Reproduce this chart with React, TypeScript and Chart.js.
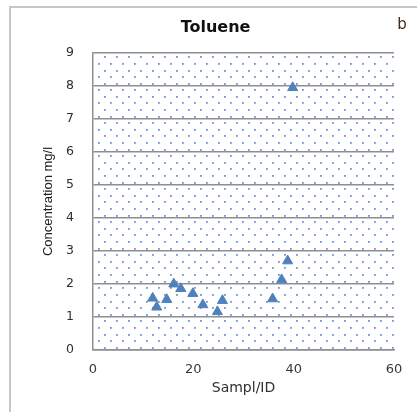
import React, { useEffect, useRef } from "react";
import { Chart, registerables } from "chart.js";

Chart.register(...registerables);

// Toluene concentration per sample
const sampleIds = [11.9, 12.7, 14.7, 16.1, 17.5, 19.9, 21.9, 24.8, 25.8, 35.8, 37.6, 38.8, 39.8];
const concentrations = [1.57, 1.3, 1.53, 2.0, 1.86, 1.71, 1.37, 1.16, 1.5, 1.55, 2.13, 2.7, 7.95];

const chartTitle = "Toluene";
const panelLabel = "b";
const xTitle = "Sampl/ID";
const yTitle = "Concentration mg/l";
const xMin = 0;
const xMax = 60;
const xStep = 20;
const yMin = 0;
const yMax = 9;
const yStep = 1;

const GRID = "#8e8e8e";
const MARKER = "#4f81bd";

// Dotted fill of the plot area plus the outer panel frame and corner label
const decorPlugin = {
  id: "decor",
  beforeDraw(chart: any) {
    const { ctx, chartArea, width, height } = chart;
    ctx.save();
    ctx.fillStyle = "#ffffff";
    ctx.fillRect(0, 0, width, height);

    // panel frame (top and left edges)
    ctx.strokeStyle = "#c6c6c6";
    ctx.lineWidth = 2;
    ctx.beginPath();
    ctx.moveTo(10, 412);
    ctx.lineTo(10, 7);
    ctx.lineTo(417, 7);
    ctx.stroke();

    // staggered dot pattern
    const { left, right, top, bottom } = chartArea;
    const dy = (bottom - top) / 45;
    ctx.fillStyle = "rgba(74,124,204,0.8)";
    let row = 0;
    for (let y = top + dy / 2; y < bottom; y += dy, row++) {
      const off = row % 2 === 0 ? 6 : 0;
      for (let x = left + 5 + off; x < right; x += 12) {
        ctx.fillRect(Math.round(x), Math.round(y), 1.8, 1.8);
      }
    }

    // panel letter
    ctx.fillStyle = "#3e2c1c";
    ctx.font = "15px 'DejaVu Sans'";
    ctx.textAlign = "center";
    ctx.textBaseline = "middle";
    ctx.fillText(panelLabel, 402, 25);
    ctx.restore();
  },
};

export default function App() {
  const canvasRef = useRef<HTMLCanvasElement | null>(null);

  useEffect(() => {
    if (!canvasRef.current) return;
    const points = sampleIds.map((x, i) => ({ x, y: concentrations[i] }));
    const chart = new Chart(canvasRef.current, {
      type: "scatter",
      data: {
        datasets: [
          {
            label: chartTitle,
            data: points,
            pointStyle: "triangle",
            pointRadius: 5.8,
            pointHoverRadius: 5.8,
            backgroundColor: MARKER,
            borderColor: MARKER,
            borderWidth: 1,
          },
        ],
      },
      options: {
        responsive: false,
        animation: false,
        layout: { padding: { left: 37, right: 23, top: 7, bottom: 0 } },
        plugins: {
          legend: { display: false },
          tooltip: { enabled: false },
          title: {
            display: true,
            text: chartTitle,
            color: "#111",
            font: { family: "'DejaVu Sans'", size: 16, weight: "bold" },
            padding: { top: 11.5, bottom: 15.3 },
          },
        },
        scales: {
          x: {
            type: "linear",
            min: xMin,
            max: xMax,
            afterFit(scale: any) {
              scale.height = 62;
            },
            ticks: {
              stepSize: xStep,
              padding: 12,
              color: "#383838",
              font: { family: "'DejaVu Sans'", size: 13 },
            },
            grid: { display: false, drawTicks: false },
            border: { display: true, color: GRID, width: 1.5 },
            title: {
              display: true,
              text: xTitle,
              color: "#303030",
              font: { family: "'DejaVu Sans'", size: 14 },
              padding: { top: 0, bottom: 15.6 },
            },
          },
          y: {
            type: "linear",
            min: yMin,
            max: yMax,
            afterFit(scale: any) {
              scale.width = 56;
            },
            ticks: {
              stepSize: yStep,
              padding: 19,
              color: "#2e2e2e",
              font: { family: "'DejaVu Sans'", size: 12.5 },
            },
            grid: { color: GRID, lineWidth: 1.5, drawTicks: false },
            border: { display: true, color: GRID, width: 1.5 },
            title: {
              display: true,
              text: yTitle,
              color: "#202020",
              font: { family: "'Liberation Sans'", size: 13 },
              padding: { top: 4, bottom: 0 },
            },
          },
        },
      },
      plugins: [decorPlugin],
    });
    return () => chart.destroy();
  }, []);

  return (
    <div style={{ position: "fixed", left: 0, top: 0, width: 417, height: 412 }}>
      <canvas ref={canvasRef} width={417} height={412} />
    </div>
  );
}
